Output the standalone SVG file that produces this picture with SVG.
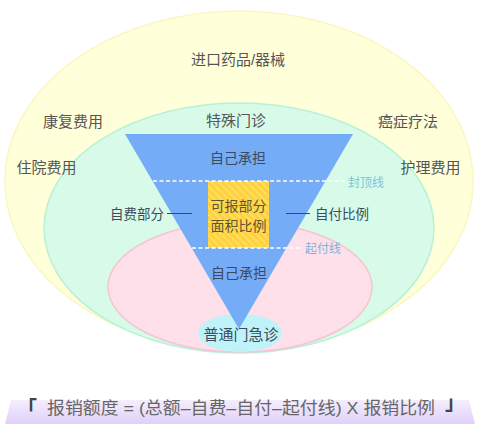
<svg xmlns="http://www.w3.org/2000/svg" width="483" height="435" viewBox="0 0 483 435">
<defs>
<style>
text{font-family:"Liberation Sans","Noto Sans CJK SC",sans-serif;}
.outer{font-size:15px;fill:#555555;text-anchor:middle;}
.inner{font-size:14px;fill:#3b4a5c;text-anchor:middle;}
.side{font-size:13.5px;fill:#3b4a5c;}
.line{stroke:#3b4a5c;stroke-width:1;}
.dash{stroke:#ffffff;stroke-width:1.5;stroke-dasharray:4 2.5;}
.lbl{font-size:12px;}
.br{font-family:"Noto Sans CJK SC",sans-serif;font-size:20px;fill:#444444;font-weight:bold;}
</style>
<pattern id="hatch" width="5" height="5" patternUnits="userSpaceOnUse" patternTransform="rotate(-45)">
<rect width="5" height="5" fill="#ffd23c"/>
<rect width="1.6" height="5" fill="#ffe06a"/>
</pattern>
<linearGradient id="band" x1="0" y1="0" x2="0" y2="1">
<stop offset="0" stop-color="#f4eefc"/>
<stop offset="1" stop-color="#e0d0fa"/>
</linearGradient>
</defs>
<rect width="483" height="435" fill="#ffffff"/>
<g id="yellow-area">
<ellipse cx="239" cy="181" rx="234" ry="170" fill="#ffffd9" stroke="#fbf6c2" stroke-width="1.5"/>
</g>
<g id="green-area">
<ellipse cx="239" cy="228" rx="195" ry="125" fill="#d7fbe8" stroke="#b9f1d6" stroke-width="1.5"/>
</g>
<g id="pink-area">
<ellipse cx="240" cy="287" rx="132" ry="65" fill="#fde0ea" stroke="#f6c4d3" stroke-width="1.5"/>
</g>
<g id="cyan-area">
<ellipse cx="240" cy="333" rx="42" ry="19" fill="#bdf3f9"/>
</g>
<g id="funnel">
<polygon points="125,134 353,134 239,329" fill="#75acf7"/>
</g>
<g id="reimbursable">
<rect x="208" y="181" width="61" height="67" fill="url(#hatch)"/>
<text class="inner" x="238.5" y="211" style="fill:#5e5533">可报部分</text>
<text class="inner" x="238.5" y="231" style="fill:#5e5533">面积比例</text>
</g>
<g id="connectors">
<line class="dash" x1="153" y1="181" x2="345" y2="181"/>
<line class="dash" x1="192" y1="248" x2="302" y2="248"/>
<line class="line" x1="167" y1="213.5" x2="192" y2="213.5"/>
<line class="line" x1="286" y1="213.5" x2="310" y2="213.5"/>
</g>
<g id="labels">
<text class="outer" x="238" y="65">进口药品/器械</text>
<text class="outer" x="236" y="126">特殊门诊</text>
<text class="outer" x="73" y="127">康复费用</text>
<text class="outer" x="408" y="127">癌症疗法</text>
<text class="outer" x="46.5" y="173">住院费用</text>
<text class="outer" x="430.5" y="173">护理费用</text>
<text class="inner" x="238" y="163">自己承担</text>
<text class="inner" x="239" y="278">自己承担</text>
<text class="side" x="110" y="218.5">自费部分</text>
<text class="side" x="315" y="218.5">自付比例</text>
<text class="lbl" x="348" y="187" style="fill:#7cc4dc">封顶线</text>
<text class="lbl" x="305" y="253" style="fill:#7fb2da">起付线</text>
<text class="outer" x="241" y="340" style="fill:#3b4a5c">普通门急诊</text>
</g>
<g id="formula">
<polygon points="11,400 469,400 475,424 5,424" fill="url(#band)"/>
<text class="br" x="17" y="416">「</text>
<text x="47" y="414" textLength="388" lengthAdjust="spacingAndGlyphs" style="font-size:17px;fill:#666666">报销额度 = (总额–自费–自付–起付线) X 报销比例</text>
<text class="br" x="445" y="410">」</text>
</g>
</svg>
